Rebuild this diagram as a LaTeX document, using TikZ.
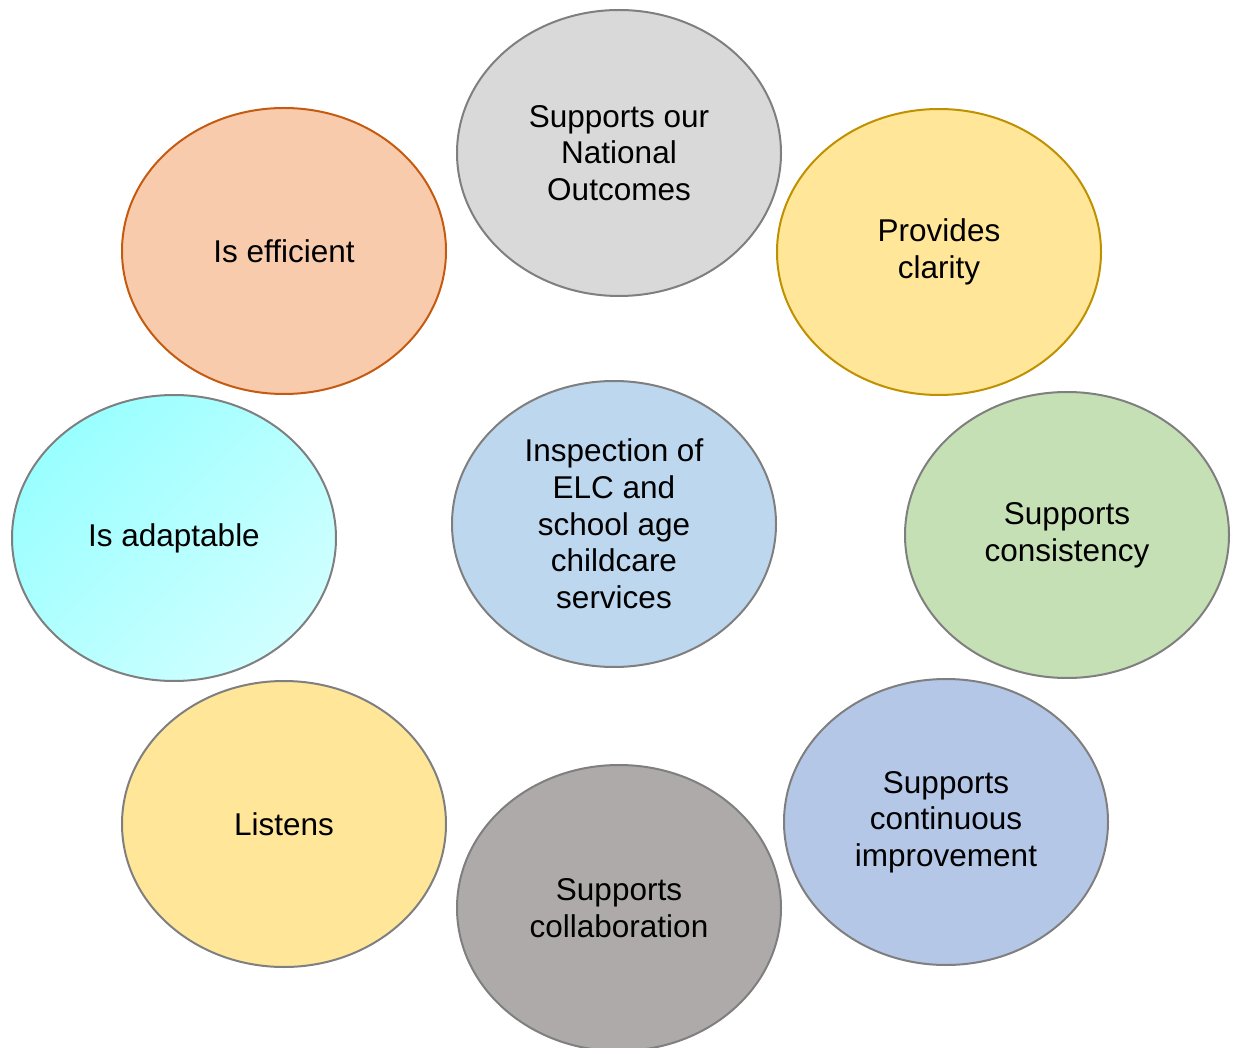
\documentclass[tikz,border=0pt]{standalone}
\usepackage{fontspec}
\setmainfont{Liberation Sans}
\usepackage{xcolor}
\usetikzlibrary{shapes.geometric}
\definecolor{rimgray}{RGB}{127, 127, 127}
\definecolor{rimorange}{RGB}{197, 90, 17}
\definecolor{rimgold}{RGB}{191, 144, 0}
\definecolor{natgray}{RGB}{217, 217, 217}
\definecolor{peach}{RGB}{248, 203, 173}
\definecolor{sand}{RGB}{255, 230, 153}
\definecolor{skyblue}{RGB}{189, 215, 238}
\definecolor{sage}{RGB}{197, 224, 180}
\definecolor{steelblue}{RGB}{180, 199, 231}
\definecolor{stone}{RGB}{174, 170, 170}
\definecolor{aquaA}{RGB}{153, 255, 255}
\definecolor{aquaB}{RGB}{208, 255, 255}

\begin{document}
\begin{tikzpicture}[x=1pt, y=-1pt,
    bubble/.style={ellipse, draw=rimgray, line width=2pt, minimum width=324pt,
        minimum height=286pt, inner sep=0pt, align=center,
        font=\fontsize{31.5}{36.7}\selectfont}]
    \useasboundingbox (0,0) rectangle (1235,1048);
    % ring of values
    \node[bubble, fill=natgray] (outcomes) at (619,153) {Supports our\\National\\Outcomes};
    \node[bubble, fill=peach, draw=rimorange] (efficient) at (284,251) {Is efficient};
    \node[bubble, fill=sand, draw=rimgold] (clarity) at (939,252) {Provides\\clarity};
    \node[bubble, top color=aquaA, bottom color=aquaB, shading angle=45] (adaptable) at (174,538) {Is adaptable};
    \node[bubble, fill=sage] (consistency) at (1067,535) {Supports\\consistency};
    \node[bubble, fill=sand] (listens) at (284,824) {Listens};
    \node[bubble, fill=stone] (collab) at (619,908) {Supports\\collaboration};
    \node[bubble, fill=steelblue] (improve) at (946,822) {Supports\\continuous\\improvement};
    % centre
    \node[bubble, fill=skyblue] (inspection) at (614,524) {Inspection of\\ELC and\\school age\\childcare\\services};
\end{tikzpicture}
\end{document}
